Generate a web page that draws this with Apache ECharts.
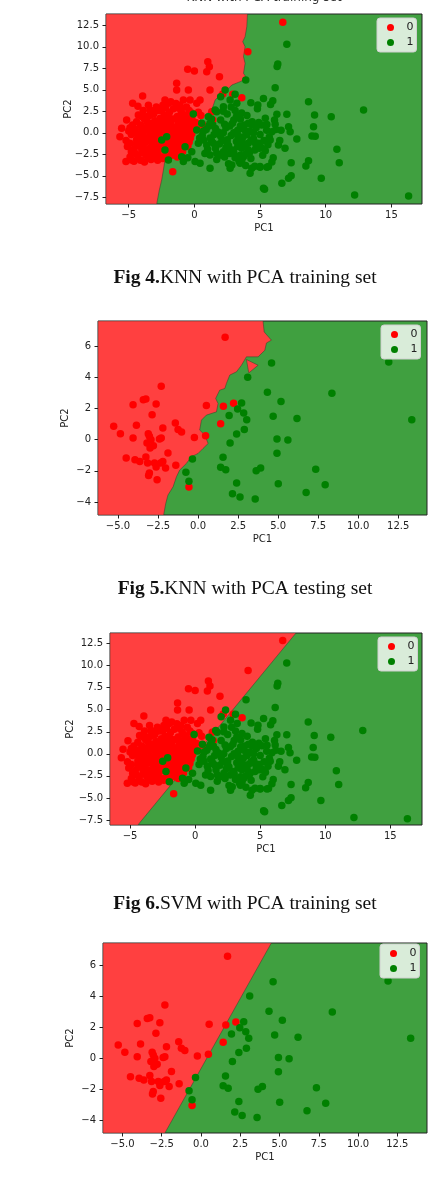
<!DOCTYPE html>
<html>
<head>
<meta charset="utf-8">
<script src="https://cdn.jsdelivr.net/npm/echarts@6/dist/echarts.min.js"></script>
<style>
  html, body { margin: 0; padding: 0; background: #fff; }
  #main { width: 437px; height: 1196px; }
</style>
</head>
<body>
<div id="main"></div>
<script>
// PCA training set, class 0 (red) and class 1 (green)
var trainClass0 = [
  [6.73, 12.85], [4.07, 9.44], [1.02, 8.26], [1.14, 7.69], [-0.51, 7.38], [0.0, 7.19], [0.94, 7.11],
  [1.91, 6.53], [-1.35, 5.76], [1.19, 4.98], [2.16, 4.52], [2.92, 4.48], [3.61, 4.09], [-3.94, 4.28],
  [-4.70, 3.43], [-5.54, 0.52], [-5.67, -0.45], [-1.65, -4.52], [1.32, 2.46], [1.40, 1.49], [0.43, 3.82],
  [0.18, 3.43], [-0.46, 4.98], [-1.35, 4.98], [-0.33, 3.82], [-0.84, 3.82], [-2.24, 3.82], [-2.62, 2.65],
  [-1.98, 3.43], [-3.38, 2.65], [-4.27, 2.07], [-5.16, 1.49], [-5.21, -3.35], [-4.78, -3.16],
  [-4.8, -0.2], [-4.5, 0.4], [-4.4, -0.8], [-4.2, -1.5], [-4.1, 0.9], [-4.0, -2.3], [-3.9, -0.3],
  [-3.8, 1.6], [-3.7, -1.1], [-3.6, 0.3], [-3.5, -2.9], [-3.4, -1.8], [-3.3, 1.1], [-3.2, -0.6],
  [-3.1, 2.2], [-3.0, 0.0], [-2.9, -2.4], [-2.8, -1.3], [-2.7, 0.7], [-2.6, 1.7], [-2.5, -0.2],
  [-2.4, -3.0], [-2.3, -1.6], [-2.2, 0.4], [-2.1, 1.2], [-2.0, -0.9], [-1.9, 2.4], [-1.8, -2.2],
  [-1.7, 0.1], [-1.6, 1.6], [-1.5, -0.4], [-1.4, -1.5], [-1.3, 0.8], [-1.2, 2.9], [-1.1, -0.1],
  [-1.0, 1.4], [-0.9, -0.9], [-0.8, 0.5], [-0.7, 2.0], [-0.6, -0.3], [-0.5, 1.0], [-0.4, 2.6],
  [-0.3, 0.2], [-0.2, 1.7], [0.1, 1.2], [0.3, 2.4],
  [-4.6, -1.9], [-4.3, -2.7], [-4.0, 1.9], [-3.9, -1.6], [-3.7, 0.6], [-3.5, -0.8], [-3.4, 2.0],
  [-3.3, -2.4], [-3.1, -1.0], [-3.0, 1.4], [-2.9, -0.4], [-2.8, 2.6], [-2.7, -2.0], [-2.6, -0.8],
  [-2.5, 0.9], [-2.4, -1.2], [-2.3, 2.0], [-2.2, -2.6], [-2.1, -0.2], [-2.0, 0.8], [-1.9, -1.7],
  [-1.8, 1.2], [-1.7, -0.6], [-1.6, 2.8], [-1.5, 0.4], [-1.4, -1.0], [-1.3, 1.9], [-1.2, -0.5],
  [-1.1, 0.6], [-1.0, -1.2], [-0.9, 2.2], [-0.8, -0.2], [-0.7, 1.2], [-0.5, -0.6], [-0.4, 0.6],
  [-0.2, -0.1], [-4.9, -1.2], [-4.7, 0.9], [-4.5, -2.4], [-4.4, 1.3], [-4.2, -0.5], [-4.1, -3.2],
  [-3.9, 2.6], [-3.6, -2.1], [-3.6, 1.9], [-3.3, -3.1], [-3.2, 0.5], [-2.9, 3.0], [-2.8, -3.2],
  [-2.6, 0.2], [-2.4, 3.2], [-2.3, -0.6], [-2.1, -1.9], [-1.9, 0.2], [-1.7, -2.6], [-1.6, -1.2],
  [-1.4, 3.4], [-1.2, -2.0], [-1.0, 0.1], [-0.8, -1.6], [-0.6, 1.6], [-0.4, -1.1], [-0.1, 0.8],
  [0.2, 0.4], [-5.2, -0.9], [-5.0, 0.2], [-4.9, -2.8], [-4.6, -3.3], [-4.3, 3.1], [-3.8, -3.4],
  [-3.0, -2.8], [-3.5, 3.2], [-2.5, 2.6], [-1.8, 3.6], [-1.1, 3.2], [-0.6, 3.0], [-0.2, 2.3],
  [0.5, 2.0], [0.6, 1.0], [-0.5, -1.6], [-1.5, -2.3], [-2.0, -3.1], [-1.3, -2.8], [-0.9, -2.2],
  [-4.6, 0.0], [-4.3, -0.2], [-4.1, -1.0], [-3.8, -0.7], [-3.7, -2.6], [-3.5, 0.9], [-3.4, -0.3],
  [-3.2, -1.5], [-3.1, 0.9], [-2.9, 0.4], [-2.8, -0.9], [-2.7, -2.7], [-2.6, 1.2], [-2.5, -1.7],
  [-2.4, 0.0], [-2.3, 1.4], [-2.2, -1.0], [-2.0, -2.3], [-1.9, 1.7], [-1.8, -0.3], [-1.7, 0.7],
  [-1.5, -0.8], [-1.4, 0.1], [-1.3, -1.8], [-1.2, 1.3], [-1.0, -0.5], [-0.9, 0.9], [-0.7, -0.6],
  [-0.6, 0.3], [-0.3, 1.4], [-4.4, -1.3], [-4.0, -1.9], [-3.6, 1.3], [-3.3, -0.9], [-3.0, -1.9],
  [-2.7, -0.5], [-2.1, 0.0], [-1.6, -1.9], [-4.8, -2.2], [-5.1, -1.6], [-4.9, 0.6], [-4.0, 0.4],
  [-3.0, 2.6], [-2.2, 2.9], [-1.0, 2.5], [-0.3, -0.6]
];
var trainClass1 = [
  [7.04, 10.29], [6.35, 8.0], [6.3, 7.7], [6.15, 5.25], [5.26, 4.0], [4.83, 3.24], [5.97, 3.74],
  [8.69, 3.62], [12.88, 2.65], [6.28, 2.15], [7.04, 2.15], [9.15, 2.07], [10.42, 1.88], [5.13, 0.91],
  [5.52, 0.98], [6.15, 1.0], [7.17, 0.71], [7.29, 0.13], [9.07, 0.71], [8.95, -0.37], [9.2, -0.4],
  [7.8, -0.72], [5.9, 0.13], [5.77, -0.83], [6.4, -1.41], [4.9, -1.2], [4.95, -1.8], [4.8, -1.5],
  [10.85, -1.91], [11.03, -3.47], [7.37, -3.47], [8.69, -3.24], [8.49, -3.86], [5.0, -4.0],
  [5.52, -4.0], [7.37, -4.99], [7.17, -5.29], [6.66, -5.87], [9.66, -5.29], [5.34, -6.57],
  [12.2, -7.23], [16.31, -7.35],
  [2.34, 4.98], [3.91, 6.14], [1.58, 2.65], [2.72, 3.82], [3.23, 3.43], [2.21, 3.04], [1.70, 2.46],
  [1.07, 1.88], [1.19, 1.1], [0.56, 1.1], [0.18, 0.33], [-0.08, 2.19], [-2.11, -0.45], [-2.49, -0.83],
  [-2.24, -2.0], [-1.98, -3.16], [-0.97, -2.77], [-0.71, -1.61], [-0.84, -3.35], [0.05, -3.35],
  [0.43, -3.55], [0.94, -1.41], [1.45, -1.22], [0.69, -0.83], [1.70, -2.38], [2.21, -2.19],
  [1.19, -2.58], [1.19, -4.13], [2.72, -4.13], [2.85, -3.74], [3.48, -3.55], [3.74, -2.77],
  [3.61, -3.16], [4.24, -4.71], [4.37, -4.13], [5.0, -3.93], [5.64, -3.93], [5.26, -6.45],
  [0.6, -0.3], [0.9, 0.4], [1.2, -0.6], [1.4, 0.9], [1.6, -1.8], [1.8, 0.1], [2.0, 1.5], [2.1, -0.9],
  [2.3, -2.8], [2.4, 0.6], [2.5, 2.2], [2.6, -1.5], [2.8, -0.3], [2.9, 1.1], [3.0, -2.3], [3.1, 2.6],
  [3.2, -1.0], [3.3, 0.3], [3.4, -3.3], [3.5, 1.6], [3.6, -1.8], [3.7, -0.5], [3.8, 0.9], [3.9, -2.5],
  [4.0, 2.0], [4.1, -1.2], [4.2, 0.2], [4.3, -3.0], [4.4, 1.3], [4.5, -0.7], [4.6, -2.0], [4.7, 0.6],
  [4.8, 2.8], [5.0, -0.2], [5.2, -2.6], [5.4, 1.7], [5.6, -1.4], [5.8, 3.3], [6.0, -2.9], [6.2, 0.4],
  [1.0, -1.9], [1.3, 1.6], [1.5, -0.2], [1.7, -3.1], [1.9, -1.3], [2.2, 0.0], [2.4, -1.7], [2.7, 0.8],
  [2.9, -2.0], [3.0, 0.0], [3.2, 1.9], [3.4, -0.7], [3.5, -2.6], [3.6, 0.5], [3.8, -1.4], [4.0, -0.2],
  [4.2, -2.3], [4.4, 0.9], [4.6, -1.1], [4.9, 1.2], [5.1, -1.7], [5.5, 0.3], [5.7, -0.5], [6.1, 1.5],
  [6.5, -0.9], [3.3, -1.6], [2.6, -3.6], [3.9, -3.8], [0.8, -2.4], [0.3, -1.2], [-0.2, -2.2],
  [-0.5, -2.9], [3.1, 4.5], [2.0, 4.2], [4.3, 3.5], [4.6, -3.9],
  [1.1, 0.8], [1.6, 0.5], [2.0, -0.4], [2.3, 1.0], [2.5, -0.8], [2.7, -2.4], [3.0, 1.5], [3.3, -0.3],
  [3.5, 0.8], [3.7, -1.2], [3.9, 0.2], [4.1, -2.0], [4.3, -0.9], [4.5, 0.0], [4.7, -1.5], [5.3, -0.9],
  [5.4, -2.1], [2.2, 2.5], [1.9, -2.6], [1.3, -0.9], [0.7, 0.2], [0.4, -0.6], [2.8, 3.0], [3.6, 2.3],
  [4.1, 1.1], [6.6, 0.3], [6.9, -1.8], [5.9, -3.4], [2.5, -1.2], [3.1, -2.9]
];

// PCA testing set
var testClass0 = [
  [1.69, 6.58], [-2.30, 3.43], [-4.06, 2.25], [-3.42, 2.57], [-3.26, 2.62], [-2.62, 2.30], [-2.87, 1.61],
  [-5.27, 0.86], [-4.85, 0.39], [-3.85, 0.93], [-4.06, 0.11], [-3.11, 0.39], [-3.04, 0.22], [-2.94, 0.0],
  [-2.79, -0.38], [-2.41, 0.05], [-2.20, 0.75], [-2.30, 0.11], [-3.19, -0.21], [-3.0, -0.53],
  [-1.42, 1.07], [-1.25, 0.65], [-1.03, 0.50], [-1.88, -0.85], [-4.49, -1.18], [-3.94, -1.28],
  [-3.64, -1.39], [-3.26, -1.11], [-3.15, -1.49], [-2.72, -1.49], [-2.62, -1.75], [-2.34, -1.49],
  [-2.20, -1.39], [-2.03, -1.82], [-1.39, -1.64], [-3.04, -2.14], [-3.09, -2.29], [-2.56, -2.57],
  [-0.23, 0.15], [0.47, 0.26], [0.52, 2.19], [1.58, 2.15], [2.22, 2.34], [1.41, 1.03], [-0.57, -3.04]
];
var testClass1 = [
  [4.59, 4.93], [11.91, 4.99], [3.10, 4.01], [4.33, 3.04], [8.36, 2.98], [2.72, 2.36], [2.47, 1.97],
  [2.85, 1.72], [5.18, 2.46], [1.94, 1.56], [4.69, 1.51], [6.18, 1.36], [3.04, 1.29], [13.35, 1.29],
  [2.89, 0.65], [2.41, 0.37], [4.93, 0.05], [5.61, -0.02], [2.00, -0.21], [4.93, -0.86], [-0.35, -1.24],
  [1.56, -1.13], [1.41, -1.77], [1.73, -1.92], [-0.76, -2.09], [-0.57, -2.67], [2.41, -2.78],
  [3.63, -1.99], [3.91, -1.82], [7.35, -1.89], [5.01, -2.83], [7.94, -2.89], [2.15, -3.46],
  [2.62, -3.68], [3.57, -3.81], [6.75, -3.38]
];

// decision boundaries, top edge to bottom edge (class 0 region lies to the left)
var knnTrainEdge = [
  [4.04, 13.82], [3.99, 12.34], [3.86, 11.18], [3.68, 10.60], [3.86, 10.02], [3.74, 8.86], [3.86, 8.08],
  [3.74, 6.92], [3.99, 6.34], [3.48, 5.95], [2.85, 5.56], [2.47, 4.98], [2.21, 4.59], [1.83, 4.21],
  [1.58, 3.82], [1.32, 2.65], [0.81, 2.07], [0.43, 1.49], [0.18, 0.91], [-0.20, 0.33], [-0.58, -0.83],
  [-1.09, -1.61], [-1.73, -2.19], [-2.24, -3.16], [-2.36, -4.32], [-2.49, -5.48], [-2.67, -6.65],
  [-2.87, -8.28]
];
var knnTestEdge = [
  [4.06, 7.62], [4.13, 6.92], [4.58, 6.39], [4.27, 6.21], [4.17, 5.74], [3.75, 5.32], [3.02, 5.32],
  [2.71, 4.78], [2.40, 4.36], [1.98, 4.15], [1.77, 3.61], [1.67, 3.29], [1.35, 3.18], [1.10, 2.65],
  [1.25, 2.33], [1.15, 1.79], [0.52, 1.58], [0.21, 1.26], [0.10, 0.62], [0.42, 0.30], [0.63, -0.24],
  [0.31, -0.56], [0.0, -0.88], [-0.42, -1.09], [-0.73, -1.52], [-1.15, -1.95], [-1.35, -2.38],
  [-1.56, -3.02], [-1.88, -3.55], [-2.02, -4.09], [-2.15, -4.83]
];
var knnTestIsland = [[3.02, 5.15], [3.75, 4.78], [3.17, 4.29]];
var svmTrainEdge = [[7.75, 13.7], [-4.40, -8.07]];
var svmTestEdge = [[4.48, 7.43], [-2.30, -4.81]];

// tick values
var trainXTicks = [-5, 0, 5, 10, 15];
var trainYTicks = [-7.5, -5, -2.5, 0, 2.5, 5, 7.5, 10, 12.5];
var testXTicks = [-5, -2.5, 0, 2.5, 5, 7.5, 10, 12.5];
var testYTicks = [-4, -2, 0, 2, 4, 6];

var captions = [
  ['Fig 4.', 'KNN with PCA training set'],
  ['Fig 5.', 'KNN with PCA testing set'],
  ['Fig 6.', 'SVM with PCA training set']
];

var RED_BG = '#ff4040';
var GREEN_BG = '#40a040';
var AXIS_FONT = '"DejaVu Sans", sans-serif';

function closeLeft(edge, xMin) {
  // edge runs from the top of the plot to the bottom; close it along the left side
  var first = edge[0], last = edge[edge.length - 1];
  return [[xMin, first[1]]].concat(edge, [[xMin, last[1]]]);
}

function fmt(decimals) {
  return function (v) {
    return v.toFixed(decimals).replace('-', '\u2212');
  };
}

var panels = [
  { rect: { left: 106, top: 14, width: 316, height: 190 }, xr: [-6.73, 17.33], yr: [-8.28, 13.82],
    xt: trainXTicks, yt: trainYTicks, xd: 0, yd: 1, c0: trainClass0, c1: trainClass1,
    regions: [closeLeft(knnTrainEdge, -6.73)], legend: { left: 377, top: 18 }, gapY: 33 },
  { rect: { left: 98, top: 321, width: 329, height: 194 }, xr: [-6.25, 14.3], yr: [-4.83, 7.62],
    xt: testXTicks, yt: testYTicks, xd: 1, yd: 0, c0: testClass0, c1: testClass1,
    regions: [closeLeft(knnTestEdge, -6.25), knnTestIsland], legend: { left: 381, top: 325 }, gapY: 28 },
  { rect: { left: 110, top: 633, width: 312, height: 192 }, xr: [-6.54, 17.43], yr: [-8.07, 13.7],
    xt: trainXTicks, yt: trainYTicks, xd: 0, yd: 1, c0: trainClass0, c1: trainClass1,
    regions: [closeLeft(svmTrainEdge, -6.54)], legend: { left: 378, top: 637 }, gapY: 35 },
  { rect: { left: 103, top: 943, width: 324, height: 190 }, xr: [-6.24, 14.39], yr: [-4.81, 7.43],
    xt: testXTicks, yt: testYTicks, xd: 1, yd: 0, c0: testClass0, c1: testClass1,
    regions: [closeLeft(svmTestEdge, -6.24)], legend: { left: 380, top: 944 }, gapY: 28 }
];

var grids = [], xAxes = [], yAxes = [], series = [], legends = [];

panels.forEach(function (p, i) {
  grids.push({
    left: p.rect.left, top: p.rect.top, width: p.rect.width, height: p.rect.height,
    show: true, backgroundColor: GREEN_BG, borderColor: '#222', borderWidth: 1
  });
  xAxes.push({
    type: 'value', gridIndex: i, min: p.xr[0], max: p.xr[1],
    name: 'PC1', nameLocation: 'middle', nameGap: 19, nameMoveOverlap: false,
    nameTextStyle: { fontSize: 10, color: '#222', fontFamily: AXIS_FONT },
    axisLine: { show: false, onZero: false }, splitLine: { show: false },
    axisTick: { show: true, length: 3.5, lineStyle: { color: '#222' }, customValues: p.xt },
    axisLabel: { fontSize: 10, color: '#222', fontFamily: AXIS_FONT, margin: 6,
      customValues: p.xt, formatter: fmt(p.xd) }
  });
  yAxes.push({
    type: 'value', gridIndex: i, min: p.yr[0], max: p.yr[1],
    name: 'PC2', nameLocation: 'middle', nameGap: p.gapY, nameMoveOverlap: false,
    nameTextStyle: { fontSize: 10, color: '#222', fontFamily: AXIS_FONT },
    axisLine: { show: false, onZero: false }, splitLine: { show: false },
    axisTick: { show: true, length: 3.5, lineStyle: { color: '#222' }, customValues: p.yt },
    axisLabel: { fontSize: 10, color: '#222', fontFamily: AXIS_FONT, margin: 7,
      customValues: p.yt, formatter: fmt(p.yd) }
  });
  p.regions.forEach(function (poly) {
    series.push({
      type: 'custom', xAxisIndex: i, yAxisIndex: i, silent: true, z: 1, clip: true,
      data: poly,
      renderItem: function (params, api) {
        if (params.dataIndex !== 0) return null;
        var pts = poly.map(function (pt) { return api.coord(pt); });
        return {
          type: 'polygon', shape: { points: pts },
          style: { fill: RED_BG, stroke: 'rgba(60,60,40,0.7)', lineWidth: 0.7 }
        };
      }
    });
  });
  series.push({
    name: '0', type: 'scatter', xAxisIndex: i, yAxisIndex: i, z: 3,
    symbolSize: 7.5, itemStyle: { color: '#ff0000', opacity: 1 }, data: p.c0
  });
  series.push({
    name: '1', type: 'scatter', xAxisIndex: i, yAxisIndex: i, z: 3,
    symbolSize: 7.5, itemStyle: { color: '#008000', opacity: 1 }, data: p.c1
  });
  legends.push({
    left: p.legend.left, top: p.legend.top, orient: 'vertical',
    data: ['0', '1'], icon: 'circle', itemWidth: 22, itemHeight: 7, itemGap: 4,
    padding: [4, 3, 4, 10], selectedMode: false,
    backgroundColor: 'rgba(255,255,255,0.8)', borderColor: '#d0d0d0', borderWidth: 1, borderRadius: 3,
    textStyle: { fontSize: 11, color: '#222', fontFamily: AXIS_FONT }
  });
});

// figure captions below panels 1-3, plus the clipped title of the first panel
var captionY = [278, 589, 904];
var graphics = captions.map(function (c, i) {
  return {
    type: 'text', x: 245, y: captionY[i], z: 10,
    style: {
      text: '{b|' + c[0] + '}' + c[1], align: 'center', verticalAlign: 'middle',
      fontSize: 19.5, fontFamily: '"Liberation Serif", serif', fill: '#111',
      rich: { b: { fontWeight: 'bold', fontSize: 19.5, fontFamily: '"Liberation Serif", serif', fill: '#111' } }
    }
  };
});
graphics.push({
  type: 'text', x: 264, y: -2, z: 10,
  style: { text: 'KNN with PCA training set', align: 'center', verticalAlign: 'middle',
    fontSize: 12, fontFamily: AXIS_FONT, fill: '#333' }
});

var chart = echarts.init(document.getElementById('main'));
chart.setOption({
  animation: false,
  backgroundColor: '#fff',
  grid: grids,
  xAxis: xAxes,
  yAxis: yAxes,
  legend: legends,
  graphic: graphics,
  series: series
});
</script>
</body>
</html>
